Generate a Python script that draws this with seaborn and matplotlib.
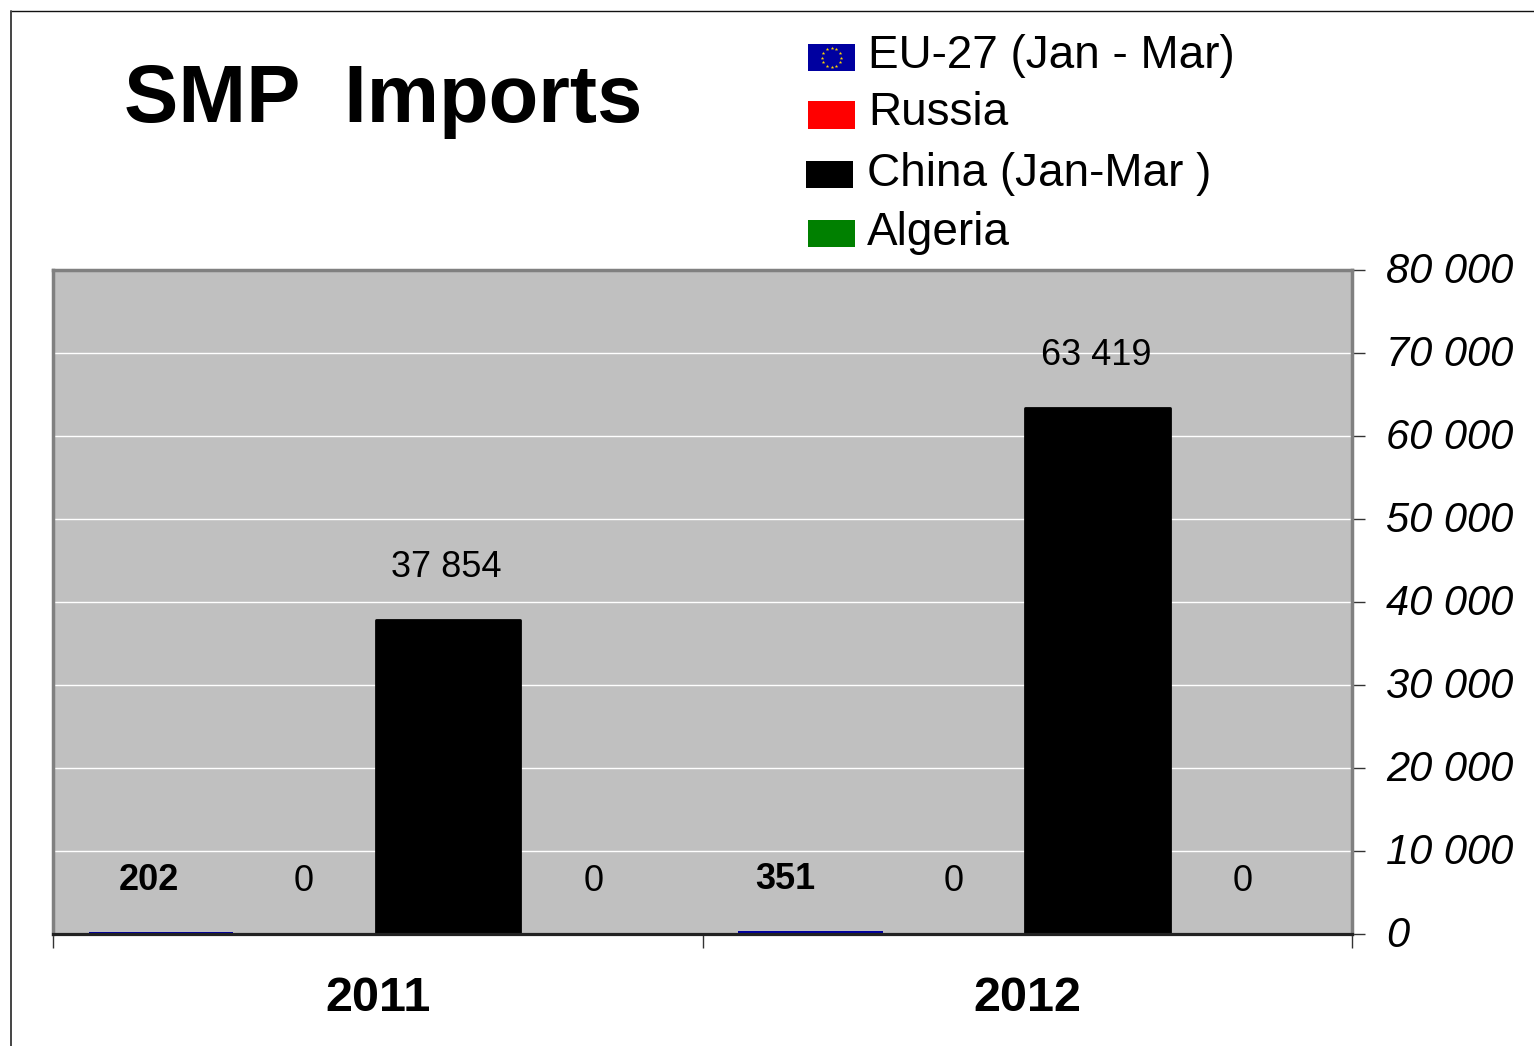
import numpy as np
import pandas as pd
import seaborn as sns
import matplotlib.pyplot as plt
from matplotlib.lines import Line2D
from matplotlib.patches import Rectangle
from matplotlib.transforms import ScaledTranslation

years = ["2011", "2012"]
countries = ["EU-27 (Jan - Mar)", "Russia", "China (Jan-Mar )", "Algeria"]
eu_values = [202, 351]
russia_values = [0, 0]
china_values = [37854, 63419]
algeria_values = [0, 0]
yticks = [0, 10000, 20000, 30000, 40000, 50000, 60000, 70000, 80000]
ytick_labels = ["0", "10 000", "20 000", "30 000", "40 000", "50 000", "60 000", "70 000", "80 000"]
colors = ["#0000A0", "#FF0000", "#000000", "#008000"]

data = pd.DataFrame({
    "year": years * 4,
    "country": np.repeat(countries, 2),
    "tonnes": eu_values + russia_values + china_values + algeria_values,
})

W, H = 1534, 1046
sns.set_style("white")
plt.rcParams["font.family"] = ["Liberation Sans"]
plt.rcParams["text.color"] = "black"

fig = plt.figure(figsize=(W / 100, H / 100), dpi=100)

def fx(px):
    return px / W

def fy(py):
    return 1 - py / H

ax = fig.add_axes([fx(53), fy(934), fx(1352 - 53), (934 - 270) / H])
sns.barplot(data=data, x="year", y="tonnes", hue="country", palette=colors, hue_order=countries,
            order=years, saturation=1, width=0.89, legend=False, linewidth=0, ax=ax)
ax.set_facecolor("#C0C0C0")
ax.set_xlim(-0.5, 1.5)
ax.set_ylim(0, 80000)
ax.set_xlabel("")
ax.set_ylabel("")
ax.yaxis.grid(True, color="white", lw=1)
ax.set_axisbelow(True)

# y axis sits on the right
ax.yaxis.tick_right()
ax.set_yticks(yticks)
ax.set_yticklabels(ytick_labels, fontsize=30, style="italic", color="black")
ax.tick_params(axis="y", right=True, length=9.5, width=1, pad=15, color="#333333")
shift_up = ScaledTranslation(0, 2.5 / 100, fig.dpi_scale_trans)
for lab in ax.get_yticklabels():
    lab.set_transform(lab.get_transform() + shift_up)

# ticks on the category edges, labels in the middle
ax.set_xticks([-0.5, 0.5, 1.5])
ax.set_xticklabels(["", "", ""])
ax.tick_params(axis="x", which="major", bottom=True, length=10, width=1, color="#333333")
ax.set_xticks([0, 1], minor=True)
ax.set_xticklabels(years, minor=True, fontsize=35, fontweight="bold", color="black")
ax.tick_params(axis="x", which="minor", bottom=False, length=0, pad=30)

for side in ["left", "top", "right"]:
    ax.spines[side].set_color("#808080")
    ax.spines[side].set_linewidth(2.5)
ax.spines["bottom"].set_color("#222222")
ax.spines["bottom"].set_linewidth(2.3)

# China bars sit a touch further left and have soft corners
for bar in ax.containers[2].patches:
    bar.set_x(bar.get_x() - 0.003)
    bar.set_edgecolor("black")
    bar.set_linewidth(2)
    bar.set_joinstyle("round")

# value labels float a fixed distance above each bar
for container, series in zip(ax.containers, [eu_values, russia_values, china_values, algeria_values]):
    bold = series is eu_values
    for bar, val in zip(container.patches, series):
        dx = -1
        if bold:
            dx = -9 if val == 202 else -18
        ax.annotate(f"{val:,}".replace(",", " "),
                    (bar.get_x() + bar.get_width() / 2, val),
                    xytext=(dx, 37.5), textcoords="offset points", ha="center", va="center",
                    fontsize=26, fontweight="bold" if bold else "normal", color="black")

fig.text(fx(124), fy(101), "SMP  Imports", fontsize=58.6, fontweight="bold", va="center", ha="left")

# legend is hand placed in the original, rows are not evenly spaced
legend_rows = [(808, 44, 71, 868, 56), (808, 101, 129, 868, 113), (806, 161, 188, 867, 174), (808, 220, 247, 867, 233)]
for (x0, top, bottom, tx, ty), name, color in zip(legend_rows, countries, colors):
    fig.add_artist(Rectangle((fx(x0), fy(bottom)), 47 / W, (bottom - top) / H,
                             transform=fig.transFigure, facecolor=color, edgecolor="none"))
    fig.text(fx(tx), fy(ty), name, fontsize=33, va="center", ha="left")

# stars on the EU flag swatch
flag = fig.add_axes([fx(808), fy(71), 47 / W, 27 / H])
flag.set_zorder(5)
flag.set_xlim(-1.74, 1.74)
flag.set_ylim(-1, 1)
flag.axis("off")
angles = np.deg2rad(np.arange(0, 360, 30))
flag.scatter(0.72 * np.cos(angles), 0.72 * np.sin(angles), marker="*", s=7, color="#FFD500", linewidths=0)

# frame of the slide, only top and left show
fig.add_artist(Line2D([fx(11), 1], [fy(11), fy(11)], transform=fig.transFigure, color="#111111", lw=1))
fig.add_artist(Line2D([fx(11), fx(11)], [fy(11), 0], transform=fig.transFigure, color="#444444", lw=1.4))

fig.savefig("out.png", dpi=100)
